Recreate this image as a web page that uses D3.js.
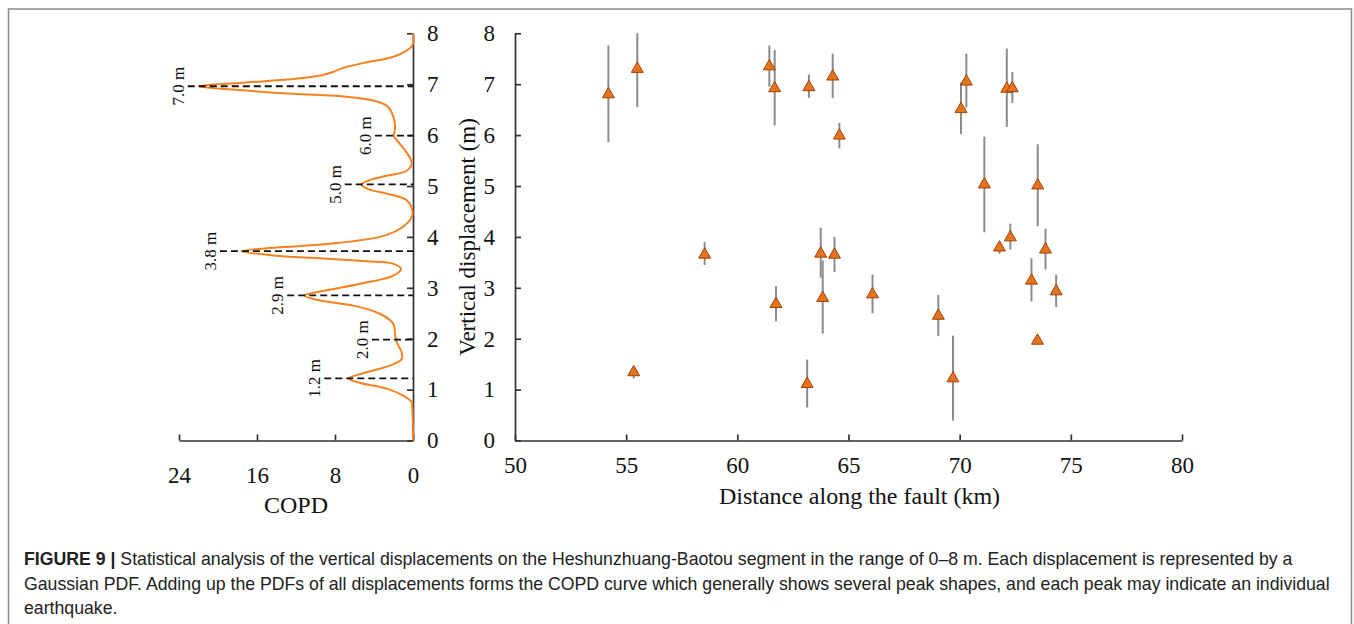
<!DOCTYPE html>
<html>
<head>
<meta charset="utf-8">
<script src="https://cdn.jsdelivr.net/npm/d3@7"></script>
<style>
  body { margin: 0; background: #fff; }
  svg { display: block; }
</style>
</head>
<body>
<svg id="fig" width="1354" height="624"></svg>
<script>
// COPD curve: depth (m) and summed PDF value
const copdDepth = [0, 0.65, 0.75, 0.88, 1.02, 1.13, 1.22, 1.34, 1.47, 1.6, 1.73, 1.93, 2.1, 2.29, 2.49, 2.65, 2.75, 2.85, 2.95, 3.08, 3.24, 3.37, 3.47, 3.52, 3.57, 3.63, 3.72, 3.79, 3.86, 4.0, 4.16, 4.39, 4.52, 4.72, 4.85, 4.94, 5.03, 5.12, 5.2, 5.3, 5.44, 5.66, 5.86, 5.99, 6.06, 6.22, 6.45, 6.58, 6.68, 6.76, 6.81, 6.88, 6.96, 7.03, 7.1, 7.17, 7.24, 7.33, 7.43, 7.54, 7.66, 7.76, 8.0];
const copdValue = [0, 0.07, 0.13, 1.0, 2.7, 5.4, 6.6, 4.75, 2.36, 1.16, 1.16, 1.67, 1.85, 2.0, 3.4, 6.1, 9.5, 11.15, 8.85, 5.4, 2.0, 1.23, 2.0, 4.75, 8.85, 14, 17.6, 14, 8.85, 3.4, 1.33, 0.13, 0.07, 0.65, 2.7, 4.6, 5.3, 4.4, 2.7, 0.65, 0.13, 0.65, 1.5, 2.0, 1.9, 1.85, 2.2, 2.7, 4.1, 7.1, 12.3, 17.4, 22.0, 17.4, 12.3, 9.5, 8.2, 7.0, 4.75, 2.0, 0.65, 0.07, 0];

// peak markers
const peakDepth = [6.96, 5.99, 5.03, 3.72, 2.85, 1.98, 1.22];
const peakLabel = ["7.0 m", "6.0 m", "5.0 m", "3.8 m", "2.9 m", "2.0 m", "1.2 m"];
const peakReach = [23.1, 3.9, 7.0, 19.8, 12.9, 4.2, 9.1];

// displacements along the fault
const dist  = [54.2, 55.5, 61.44, 61.68, 63.22, 64.29, 64.59, 70.06, 70.3, 72.12, 72.37, 71.11, 73.51, 55.34, 58.53, 61.74, 63.14, 63.75, 63.84, 64.37, 66.08, 69.04, 69.7, 71.79, 72.28, 73.23, 73.86, 74.34, 73.5];
const disp  = [6.8, 7.3, 7.35, 6.92, 6.94, 7.15, 5.99, 6.51, 7.05, 6.91, 6.92, 5.03, 5.01, 1.34, 3.65, 2.68, 1.11, 3.67, 2.8, 3.65, 2.87, 2.45, 1.22, 3.79, 3.99, 3.14, 3.75, 2.93, 1.96];
const errHi = [7.76, 8.0, 7.76, 7.67, 7.19, 7.6, 6.24, 7.03, 7.6, 7.7, 7.24, 5.97, 5.82, 1.45, 3.9, 3.03, 1.59, 4.18, 3.54, 4.0, 3.26, 2.86, 2.06, 3.86, 4.26, 3.58, 4.16, 3.26, 2.02];
const errLo = [5.86, 6.55, 6.95, 6.19, 6.73, 6.73, 5.74, 6.02, 6.54, 6.16, 6.63, 4.09, 4.21, 1.22, 3.45, 2.34, 0.65, 3.2, 2.1, 3.31, 2.5, 2.05, 0.39, 3.67, 3.75, 2.73, 3.36, 2.62, 1.88];

const copdTicks = [24, 16, 8, 0];
const distTicks = [50, 55, 60, 65, 70, 75, 80];
const dispTicks = [0, 1, 2, 3, 4, 5, 6, 7, 8];

const SERIF = "'Liberation Serif', 'Times New Roman', serif";
const AXIS = "#333";

const svg = d3.select("#fig");

// frame
svg.append("rect")
    .attr("x", 8.5).attr("y", 9).attr("width", 1343).attr("height", 700)
    .attr("fill", "none").attr("stroke", "#8a8a8a").attr("stroke-width", 1.5);

const y = d3.scaleLinear().domain([0, 8]).range([440.5, 33.3]);
const cx = d3.scaleLinear().domain([0, 24]).range([413, 179]);
const x = d3.scaleLinear().domain([50, 80]).range([515, 1182]);

function styleAxis(sel) {
    sel.select(".domain").attr("stroke", AXIS).attr("stroke-width", 1.7);
    sel.selectAll(".tick line").attr("stroke", AXIS).attr("stroke-width", 1.7);
    sel.selectAll(".tick text").attr("fill", "#111")
        .attr("font-family", SERIF).attr("font-size", 23);
}

// ---- COPD panel ----
const left = svg.append("g");

left.append("g").attr("transform", `translate(${cx(0)},0)`)
    .call(d3.axisRight(y).tickValues(dispTicks).tickSizeInner(-6).tickSizeOuter(0).tickPadding(14))
    .call(styleAxis);

left.append("g").attr("transform", `translate(0,${y(0)})`)
    .call(d3.axisBottom(cx).tickValues(copdTicks).tickSizeInner(-6).tickSizeOuter(0).tickPadding(26))
    .call(styleAxis);

left.append("text")
    .attr("x", cx(12)).attr("y", 513).attr("text-anchor", "middle")
    .attr("font-family", SERIF).attr("font-size", 24).attr("fill", "#111")
    .text("COPD");

const copdLine = d3.line()
    .x(i => cx(copdValue[i]))
    .y(i => y(copdDepth[i]))
    .curve(d3.curveCatmullRom.alpha(0.5));

left.append("path")
    .attr("d", copdLine(d3.range(copdDepth.length)))
    .attr("fill", "none").attr("stroke", "#f5821f").attr("stroke-width", 2);

peakDepth.forEach((d, i) => {
    left.append("line")
        .attr("x1", cx(peakReach[i])).attr("x2", cx(0))
        .attr("y1", y(d)).attr("y2", y(d))
        .attr("stroke", "#111").attr("stroke-width", 1.8)
        .attr("stroke-dasharray", "7,4");
    const tx = cx(peakReach[i]) - 4;
    left.append("text")
        .attr("transform", `translate(${tx},${y(d)}) rotate(-90)`)
        .attr("text-anchor", "middle")
        .attr("font-family", SERIF).attr("font-size", 17).attr("fill", "#111")
        .text(peakLabel[i]);
});

// ---- scatter panel ----
const right = svg.append("g");

right.append("g").attr("transform", `translate(${x(50)},0)`)
    .call(d3.axisLeft(y).tickValues(dispTicks).tickSizeInner(-6).tickSizeOuter(0).tickPadding(20))
    .call(styleAxis);

right.append("g").attr("transform", `translate(0,${y(0)})`)
    .call(d3.axisBottom(x).tickValues(distTicks).tickSizeInner(-6).tickSizeOuter(0).tickPadding(16))
    .call(styleAxis);

right.append("text")
    .attr("x", x(65) + 11).attr("y", 504).attr("text-anchor", "middle")
    .attr("font-family", SERIF).attr("font-size", 24).attr("fill", "#111")
    .text("Distance along the fault (km)");

right.append("text")
    .attr("transform", `translate(475,${y(4)}) rotate(-90)`)
    .attr("text-anchor", "middle")
    .attr("font-family", SERIF).attr("font-size", 23).attr("fill", "#111")
    .text("Vertical displacement (m)");

const idx = d3.range(dist.length);

right.selectAll(".err")
    .data(idx).enter().append("line")
    .attr("class", "err")
    .attr("x1", i => x(dist[i])).attr("x2", i => x(dist[i]))
    .attr("y1", i => y(errLo[i])).attr("y2", i => y(errHi[i]))
    .attr("stroke", "#8c8c8c").attr("stroke-width", 2);

right.selectAll(".pt")
    .data(idx).enter().append("path")
    .attr("class", "pt")
    .attr("transform", i => `translate(${x(dist[i])},${y(disp[i])})`)
    .attr("d", d3.symbol(d3.symbolTriangle, 62))
    .attr("fill", "#e8731f").attr("stroke", "#9e4208").attr("stroke-width", 1);

// ---- caption ----
const captionLines = [
    "Statistical analysis of the vertical displacements on the Heshunzhuang-Baotou segment in the range of 0\u20138 m. Each displacement is represented by a",
    "Gaussian PDF. Adding up the PDFs of all displacements forms the COPD curve which generally shows several peak shapes, and each peak may indicate an individual",
    "earthquake."
];
const cap = svg.append("text")
    .attr("font-family", "'Liberation Sans', Arial, Helvetica, sans-serif")
    .attr("font-size", 17.7).attr("fill", "#222");

captionLines.forEach((t, i) => {
    const line = cap.append("tspan").attr("x", 24).attr("y", 565 + i * 24.5);
    if (i === 0) {
        line.append("tspan").attr("font-weight", "bold").text("FIGURE 9 | ");
    }
    line.append("tspan").text(t);
});
</script>
</body>
</html>
